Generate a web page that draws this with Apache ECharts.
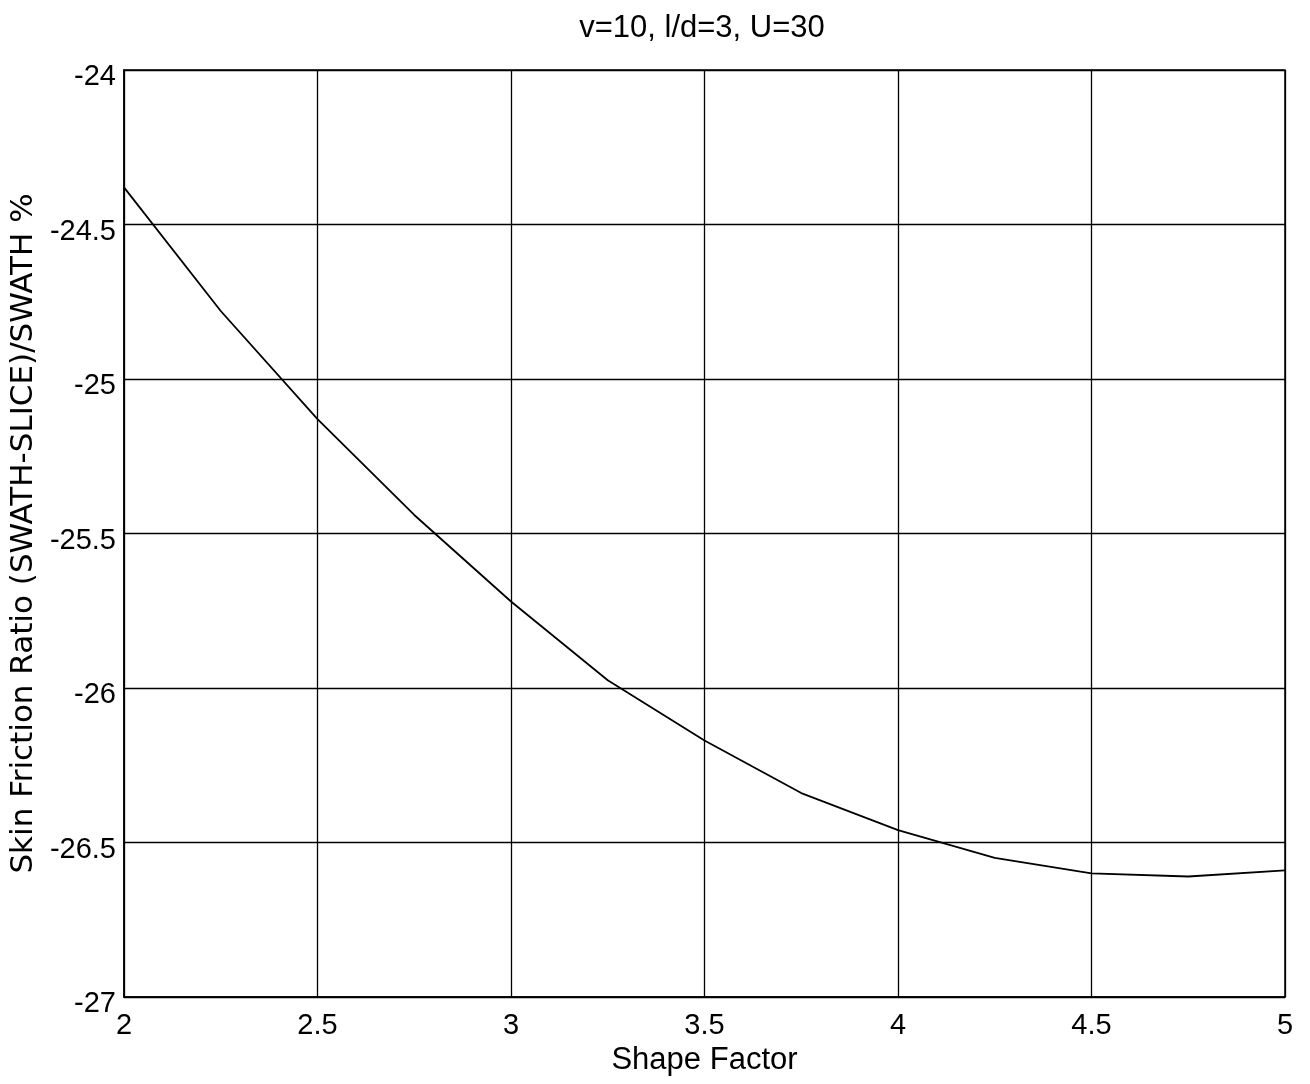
<!DOCTYPE html>
<html>
<head>
<meta charset="utf-8">
<script src="https://cdn.jsdelivr.net/npm/echarts@6/dist/echarts.min.js"></script>
<style>html,body{margin:0;padding:0;background:#fff;}#c{width:1310px;height:1084px;}</style>
</head>
<body>
<div id="c"></div>
<script>
var titleText = 'v=10, l/d=3, U=30';
var xName = 'Shape Factor';
var yName = 'Skin Friction Ratio (SWATH-SLICE)/SWATH %';
var shapeFactor = [2, 2.25, 2.5, 2.75, 3, 3.25, 3.5, 3.75, 4, 4.25, 4.5, 4.75, 5];
var ratio = [-24.38, -24.78, -25.13, -25.44, -25.72, -25.975, -26.17, -26.34, -26.46, -26.55, -26.60, -26.61, -26.59];

var chart = echarts.init(document.getElementById('c'), null, {renderer: 'canvas'});
var font = 'Liberation Sans, Arial, sans-serif';
chart.setOption({
  animation: false,
  backgroundColor: '#fff',
  title: {text: titleText, left: 697, top: 8, textAlign: 'center',
    textStyle: {fontFamily: font, fontSize: 31, fontWeight: 'normal', color: '#000'}},
  grid: {left: 124, right: 25, top: 70, bottom: 87, show: true, borderColor: '#000', borderWidth: 1.5},
  xAxis: {type: 'value', min: 2, max: 5, interval: 0.5,
    name: xName, nameLocation: 'middle', nameGap: 47,
    nameTextStyle: {fontFamily: font, fontSize: 31, color: '#000'},
    axisLine: {show: true, lineStyle: {color: '#000', width: 1.5}},
    axisTick: {show: false},
    axisLabel: {fontFamily: font, fontSize: 29, color: '#000', margin: 14},
    splitLine: {show: true, lineStyle: {color: '#000', width: 1.3}}},
  yAxis: {type: 'value', min: -27, max: -24, interval: 0.5,
    name: yName, nameLocation: 'middle', nameGap: 84, nameRotate: 90,
    nameTextStyle: {fontFamily: 'DejaVu Sans, sans-serif', fontSize: 31, color: '#000'},
    axisLine: {show: true, lineStyle: {color: '#000', width: 1.5}},
    axisTick: {show: false},
    axisLabel: {fontFamily: font, fontSize: 29, color: '#000', margin: 8, verticalAlign: 'top', lineHeight: 14},
    splitLine: {show: true, lineStyle: {color: '#000', width: 1.3}}},
  series: [{type: 'line', data: shapeFactor.map(function (x, i) { return [x, ratio[i]]; }),
    showSymbol: false, lineStyle: {color: '#000', width: 1.8}}]
});
</script>
</body>
</html>
